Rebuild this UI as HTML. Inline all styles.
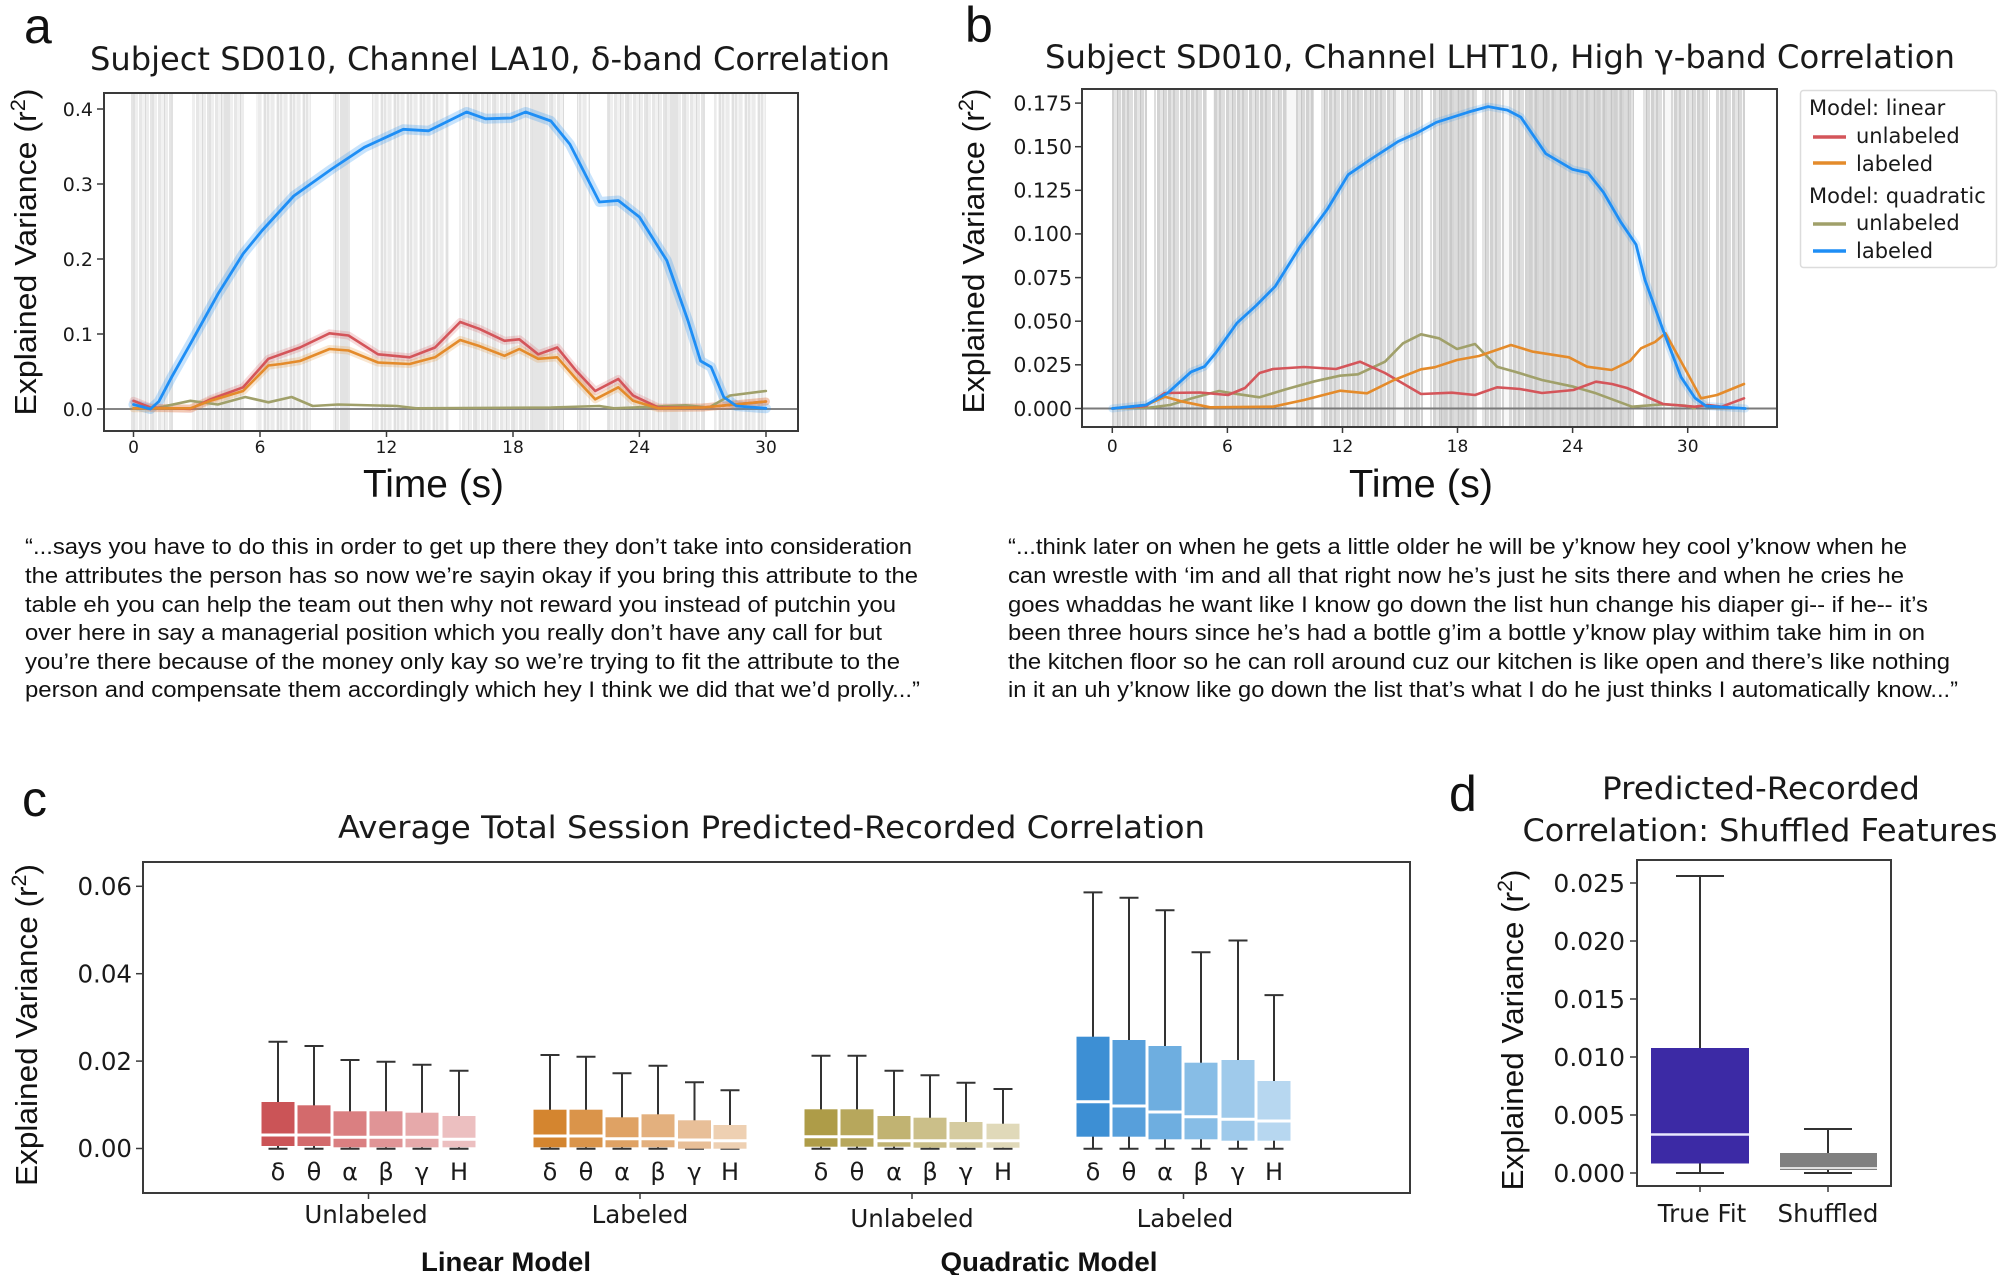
<!DOCTYPE html>
<html>
<head>
<meta charset="utf-8">
<style>
html,body{margin:0;padding:0;background:#fff;}
svg{display:block;}
.dj{font-family:"DejaVu Sans","Liberation Sans",sans-serif;fill:#1a1a1a;}
.ls{font-family:"Liberation Sans","DejaVu Sans",sans-serif;fill:#111;}
</style>
</head>
<body>
<svg width="2000" height="1275" viewBox="0 0 2000 1275" xmlns="http://www.w3.org/2000/svg">
<defs>
<pattern id="pa" patternUnits="userSpaceOnUse" x="0" y="0" width="19" height="10">
<rect width="19" height="10" fill="#ffffff"/>
<rect x="0" width="2" height="10" fill="#e1e1e1"/>
<rect x="2" width="3" height="10" fill="#efefef"/>
<rect x="6" width="3" height="10" fill="#e7e7e7"/>
<rect x="9" width="3" height="10" fill="#f2f2f2"/>
<rect x="12" width="1" height="10" fill="#dadada"/>
<rect x="13" width="3" height="10" fill="#ededed"/>
<rect x="17" width="2" height="10" fill="#e5e5e5"/>
</pattern>
<pattern id="pa2" patternUnits="userSpaceOnUse" x="7" y="0" width="13" height="10">
<rect width="13" height="10" fill="#f3f3f3"/>
<rect x="0" width="2" height="10" fill="#e4e4e4"/>
<rect x="4" width="3" height="10" fill="#ebebeb"/>
<rect x="8" width="1" height="10" fill="#ffffff"/>
<rect x="10" width="2" height="10" fill="#e0e0e0"/>
</pattern>
<pattern id="pb" patternUnits="userSpaceOnUse" x="0" y="0" width="23" height="10">
<rect width="23" height="10" fill="#e0e0e0"/>
<rect x="0" width="2" height="10" fill="#cdcdcd"/>
<rect x="2" width="4" height="10" fill="#dedede"/>
<rect x="6" width="1" height="10" fill="#ffffff"/>
<rect x="7" width="3" height="10" fill="#d3d3d3"/>
<rect x="10" width="3" height="10" fill="#e5e5e5"/>
<rect x="13" width="1" height="10" fill="#c6c6c6"/>
<rect x="14" width="3" height="10" fill="#d9d9d9"/>
<rect x="17" width="1" height="10" fill="#f6f6f6"/>
<rect x="18" width="3" height="10" fill="#d1d1d1"/>
<rect x="21" width="2" height="10" fill="#e3e3e3"/>
</pattern>
<pattern id="pb2" patternUnits="userSpaceOnUse" x="5" y="0" width="17" height="10">
<rect width="17" height="10" fill="#d6d6d6"/>
<rect x="0" width="2" height="10" fill="#c9c9c9"/>
<rect x="4" width="3" height="10" fill="#dcdcdc"/>
<rect x="8" width="1" height="10" fill="#c4c4c4"/>
<rect x="11" width="3" height="10" fill="#d0d0d0"/>
<rect x="15" width="1" height="10" fill="#e6e6e6"/>
</pattern>
</defs>
<rect width="2000" height="1275" fill="#fff"/>

<!-- ================= PANEL A ================= -->
<text class="ls" x="24" y="43" font-size="50">a</text>
<text class="dj" x="90" y="70" font-size="32" textLength="800" lengthAdjust="spacingAndGlyphs">Subject SD010, Channel LA10, δ-band Correlation</text>

<!-- bands a -->
<g>
<rect x="131" y="94" width="42" height="336" fill="url(#pa)"/>
<rect x="192" y="94" width="53" height="336" fill="url(#pa)"/>
<rect x="256" y="94" width="55" height="336" fill="url(#pa2)"/>
<rect x="333" y="94" width="17" height="336" fill="url(#pa)"/>
<rect x="372" y="94" width="77" height="336" fill="url(#pa2)"/>
<rect x="459" y="94" width="105" height="336" fill="url(#pa)"/>
<rect x="577" y="94" width="13" height="336" fill="url(#pa2)"/>
<rect x="607" y="94" width="98" height="336" fill="url(#pa)"/>
<rect x="714" y="94" width="52" height="336" fill="url(#pa2)"/>
<rect x="224" y="94" width="6" height="336" fill="#e2e2e2"/>
<rect x="340" y="94" width="8" height="336" fill="#e3e3e3"/>
<rect x="533" y="94" width="12" height="336" fill="#e5e5e5"/>
<rect x="670" y="94" width="8" height="336" fill="#e3e3e3"/>
</g>
<line x1="104" y1="409" x2="798" y2="409" stroke="#858585" stroke-width="2"/>

<!-- curves a -->
<g fill="none" stroke-linejoin="round" stroke-linecap="round">
<polyline stroke="#1e8ef5" stroke-opacity="0.25" stroke-width="10" points="133.5,404.5 150.4,409 158.8,401.5 171.4,377.5 190.4,343.8 217.8,294.3 243.1,253.8 262.1,230.5 293.7,196 331.7,169 364.3,147.3 403.3,129.3 428.6,130.8 466.6,112 485.5,118.8 510.8,118 525.6,112 550.9,121 569.9,144.3 599.4,202 618.3,200.5 639.4,217 666.8,260.5 687.9,320.5 700.6,361 711.1,367 723.7,397 736.4,406 765.9,408.3"/>
<polyline stroke="#d4555a" stroke-opacity="0.22" stroke-width="8" points="133.5,400.8 150.4,407.5 190.4,409 210.4,399.3 243.1,387.3 268.4,358.8 300,347.5 329.5,333.3 348.5,335.5 378,354.3 409.6,357.3 435,347.5 460.2,322 479.2,328.8 504.5,340.8 519.3,339.3 538.2,354.3 557.2,347.5 576.2,370.8 595.2,391 618.3,379 633.1,395.5 658.4,407.5 702.7,407.5 765.9,401.5"/>
<polyline stroke="#e48b2b" stroke-opacity="0.22" stroke-width="8" points="133.5,408.3 190.4,408.3 210.4,400.8 243.1,391 268.4,365.5 281,364 300,361 329.5,349 348.5,350.5 378,362.5 409.6,364 435,357.3 460.2,340 479.2,346 504.5,355.8 519.3,349 538.2,358.8 557.2,357.3 576.2,379 595.2,399.3 618.3,387.3 633.1,400.8 658.4,408.3 702.7,407.5 765.9,401.5"/>
<polyline stroke="#a0a06a" stroke-width="2.6" points="133.5,408.3 158.8,407.5 190.4,400.8 217.8,404.5 245.2,397 268.4,402.3 291.6,397 312.7,406 338,404.5 397,406 416,408.3 550.9,407.5 599.4,406 614,408.3 685.8,405.3 709,407.5 730.1,395.5 765.9,391"/>
<polyline stroke="#d4555a" stroke-width="2.6" points="133.5,400.8 150.4,407.5 190.4,409 210.4,399.3 243.1,387.3 268.4,358.8 300,347.5 329.5,333.3 348.5,335.5 378,354.3 409.6,357.3 435,347.5 460.2,322 479.2,328.8 504.5,340.8 519.3,339.3 538.2,354.3 557.2,347.5 576.2,370.8 595.2,391 618.3,379 633.1,395.5 658.4,407.5 702.7,407.5 765.9,401.5"/>
<polyline stroke="#e48b2b" stroke-width="2.6" points="133.5,408.3 190.4,408.3 210.4,400.8 243.1,391 268.4,365.5 281,364 300,361 329.5,349 348.5,350.5 378,362.5 409.6,364 435,357.3 460.2,340 479.2,346 504.5,355.8 519.3,349 538.2,358.8 557.2,357.3 576.2,379 595.2,399.3 618.3,387.3 633.1,400.8 658.4,408.3 702.7,407.5 765.9,401.5"/>
<polyline stroke="#1e8ef5" stroke-width="2.8" points="133.5,404.5 150.4,409 158.8,401.5 171.4,377.5 190.4,343.8 217.8,294.3 243.1,253.8 262.1,230.5 293.7,196 331.7,169 364.3,147.3 403.3,129.3 428.6,130.8 466.6,112 485.5,118.8 510.8,118 525.6,112 550.9,121 569.9,144.3 599.4,202 618.3,200.5 639.4,217 666.8,260.5 687.9,320.5 700.6,361 711.1,367 723.7,397 736.4,406 765.9,408.3"/>
</g>

<rect x="104" y="93" width="694" height="338" fill="none" stroke="#3a3a3a" stroke-width="2"/>
<g stroke="#3a3a3a" stroke-width="1.5">
<line x1="97" y1="109" x2="104" y2="109"/><line x1="97" y1="184" x2="104" y2="184"/><line x1="97" y1="259" x2="104" y2="259"/><line x1="97" y1="334" x2="104" y2="334"/><line x1="97" y1="409" x2="104" y2="409"/>
<line x1="133.5" y1="431" x2="133.5" y2="437"/><line x1="260" y1="431" x2="260" y2="437"/><line x1="386.5" y1="431" x2="386.5" y2="437"/><line x1="513" y1="431" x2="513" y2="437"/><line x1="639.4" y1="431" x2="639.4" y2="437"/><line x1="766" y1="431" x2="766" y2="437"/>
</g>
<g class="dj" font-size="19" text-anchor="end">
<text x="93" y="116">0.4</text><text x="93" y="191">0.3</text><text x="93" y="266">0.2</text><text x="93" y="341">0.1</text><text x="93" y="416">0.0</text>
</g>
<g class="dj" font-size="17" text-anchor="middle">
<text x="133.5" y="453">0</text><text x="260" y="453">6</text><text x="386.5" y="453">12</text><text x="513" y="453">18</text><text x="639.4" y="453">24</text><text x="766" y="453">30</text>
</g>
<text class="ls" x="363" y="497" font-size="39" textLength="141" lengthAdjust="spacingAndGlyphs">Time (s)</text>
<text class="ls" transform="translate(36,252) rotate(-90)" text-anchor="middle" font-size="31" textLength="327" lengthAdjust="spacingAndGlyphs">Explained Variance (r<tspan dy="-11" font-size="21">2</tspan><tspan dy="11">)</tspan></text>

<!-- ================= PANEL B ================= -->
<text class="ls" x="965" y="42" font-size="50">b</text>
<text class="dj" x="1045" y="68" font-size="32" textLength="910" lengthAdjust="spacingAndGlyphs">Subject SD010, Channel LHT10, High γ-band Correlation</text>

<g>
<rect x="1112" y="90" width="633" height="336" fill="url(#pb)"/>
<rect x="1527" y="90" width="103" height="336" fill="url(#pb2)"/>
<rect x="1440" y="90" width="30" height="336" fill="url(#pb2)"/>
<rect x="1147" y="90" width="7" height="336" fill="#ffffff"/>
<rect x="1207" y="90" width="6" height="336" fill="#ffffff"/>
<rect x="1287" y="90" width="9" height="336" fill="#f7f7f7"/>
<rect x="1314" y="90" width="7" height="336" fill="#ffffff"/>
<rect x="1396" y="90" width="8" height="336" fill="#f8f8f8"/>
<rect x="1423" y="90" width="7" height="336" fill="#ffffff"/>
<rect x="1477" y="90" width="5" height="336" fill="#ffffff"/>
<rect x="1504" y="90" width="5" height="336" fill="#f8f8f8"/>
<rect x="1634" y="90" width="9" height="336" fill="#ffffff"/>
<rect x="1665" y="90" width="6" height="336" fill="#f8f8f8"/>
<rect x="1710" y="90" width="6" height="336" fill="#ffffff"/>
</g>
<line x1="1082" y1="408.5" x2="1777" y2="408.5" stroke="#7a7a7a" stroke-width="2"/>

<g fill="none" stroke-linejoin="round" stroke-linecap="round">
<polyline stroke="#1e8ef5" stroke-opacity="0.18" stroke-width="8" points="1112.3,408.5 1145.9,405 1167.9,392.8 1191,371.9 1204.4,366.6 1215.9,352.7 1237,323 1256.2,305.5 1275.3,286.3 1300.3,246.2 1327.1,209.6 1348.2,174.7 1371.2,159 1398.1,141.5 1417.3,132.8 1436.4,122.3 1469,111.9 1488.2,106.6 1507.4,110.1 1520.8,117.1 1545.8,153.7 1572.6,169.4 1588,172.9 1603.3,192.1 1620.6,221.8 1636,244.5 1645,280 1663,330 1681,377 1695,398 1706,406 1745.2,408.5"/>
<polyline stroke="#a0a06a" stroke-width="2.6" points="1112.3,408.5 1150,407.5 1170,405 1192,398.3 1219,391 1232.5,393.3 1259.5,397.3 1286,389.3 1313,381.7 1340,375.7 1358,374.3 1385,361.7 1403,343.3 1421,334.3 1439,338.3 1457,349 1475,344 1497,366.7 1515,371.7 1542,380 1573.5,386.7 1596,393.3 1632,406.7 1663,404.3 1685.7,405.7 1694.6,408.3"/>
<polyline stroke="#d4555a" stroke-width="2.6" points="1112.3,408.5 1145.9,406 1165,393 1200,392.5 1228,395 1245,388 1259.5,373 1273,369 1304,367 1336,369 1360,361.7 1385,373 1421,394 1452,392.7 1475,395 1497,387.3 1520,389 1542,393 1573.5,390 1596,381.7 1612,384 1627,388 1645,396 1663,404 1694.6,406.7 1708,405 1721.6,406.7 1744,398.3"/>
<polyline stroke="#e48b2b" stroke-width="2.6" points="1112.3,408.5 1145.9,405 1165,396.7 1183,401.7 1210,407.3 1273,406.7 1304,400 1340,390.7 1367,393.3 1394,380 1421,369.3 1434.5,367.3 1457,360 1479,356 1511,345 1533,351.7 1569,357.3 1587,366.7 1611.6,370 1630,361 1641,348.3 1655,342 1665.5,333.3 1685.7,370 1701,398.3 1717,395 1744,384"/>
<polyline stroke="#1e8ef5" stroke-width="2.8" points="1112.3,408.5 1145.9,405 1167.9,392.8 1191,371.9 1204.4,366.6 1215.9,352.7 1237,323 1256.2,305.5 1275.3,286.3 1300.3,246.2 1327.1,209.6 1348.2,174.7 1371.2,159 1398.1,141.5 1417.3,132.8 1436.4,122.3 1469,111.9 1488.2,106.6 1507.4,110.1 1520.8,117.1 1545.8,153.7 1572.6,169.4 1588,172.9 1603.3,192.1 1620.6,221.8 1636,244.5 1645,280 1663,330 1681,377 1695,398 1706,406 1745.2,408.5"/>
</g>

<rect x="1082" y="89" width="695" height="338" fill="none" stroke="#3a3a3a" stroke-width="2"/>
<g stroke="#3a3a3a" stroke-width="1.5">
<line x1="1075" y1="103.1" x2="1082" y2="103.1"/><line x1="1075" y1="146.7" x2="1082" y2="146.7"/><line x1="1075" y1="190.3" x2="1082" y2="190.3"/><line x1="1075" y1="233.9" x2="1082" y2="233.9"/><line x1="1075" y1="277.6" x2="1082" y2="277.6"/><line x1="1075" y1="321.2" x2="1082" y2="321.2"/><line x1="1075" y1="364.8" x2="1082" y2="364.8"/><line x1="1075" y1="408.5" x2="1082" y2="408.5"/>
<line x1="1112.3" y1="427" x2="1112.3" y2="433"/><line x1="1227.4" y1="427" x2="1227.4" y2="433"/><line x1="1342.5" y1="427" x2="1342.5" y2="433"/><line x1="1457.5" y1="427" x2="1457.5" y2="433"/><line x1="1572.6" y1="427" x2="1572.6" y2="433"/><line x1="1687.7" y1="427" x2="1687.7" y2="433"/>
</g>
<g class="dj" font-size="20.5" text-anchor="end">
<text x="1072" y="110.5">0.175</text><text x="1072" y="154">0.150</text><text x="1072" y="197.5">0.125</text><text x="1072" y="241">0.100</text><text x="1072" y="285">0.075</text><text x="1072" y="328.5">0.050</text><text x="1072" y="372">0.025</text><text x="1072" y="416">0.000</text>
</g>
<g class="dj" font-size="17" text-anchor="middle">
<text x="1112.3" y="452">0</text><text x="1227.4" y="452">6</text><text x="1342.5" y="452">12</text><text x="1457.5" y="452">18</text><text x="1572.6" y="452">24</text><text x="1687.7" y="452">30</text>
</g>
<text class="ls" x="1349" y="497" font-size="39" textLength="144" lengthAdjust="spacingAndGlyphs">Time (s)</text>
<text class="ls" transform="translate(984,251) rotate(-90)" text-anchor="middle" font-size="31" textLength="325" lengthAdjust="spacingAndGlyphs">Explained Variance (r<tspan dy="-11" font-size="21">2</tspan><tspan dy="11">)</tspan></text>

<!-- legend -->
<rect x="1800.5" y="90.5" width="196" height="177" rx="3" fill="#fff" stroke="#dcdcdc" stroke-width="1.5"/>
<g class="dj" font-size="21">
<text x="1809" y="115">Model: linear</text>
<text x="1856" y="143">unlabeled</text>
<text x="1856" y="171">labeled</text>
<text x="1809" y="203">Model: quadratic</text>
<text x="1856" y="230">unlabeled</text>
<text x="1856" y="258">labeled</text>
</g>
<g stroke-width="3.5">
<line x1="1813" y1="137" x2="1846" y2="137" stroke="#d4555a"/>
<line x1="1813" y1="163" x2="1846" y2="163" stroke="#e48b2b"/>
<line x1="1813" y1="224" x2="1846" y2="224" stroke="#a0a06a"/>
<line x1="1813" y1="251" x2="1846" y2="251" stroke="#1e8ef5"/>
</g>

<!-- ================= QUOTES ================= -->
<g class="ls" font-size="22" fill="#111">
<text x="25" y="554" textLength="887" lengthAdjust="spacingAndGlyphs">“...says you have to do this in order to get up there they don’t take into consideration</text>
<text x="25" y="583" textLength="893" lengthAdjust="spacingAndGlyphs">the attributes the person has so now we’re sayin okay if you bring this attribute to the</text>
<text x="25" y="612" textLength="871" lengthAdjust="spacingAndGlyphs">table eh you can help the team out then why not reward you instead of putchin you</text>
<text x="25" y="640" textLength="857" lengthAdjust="spacingAndGlyphs">over here in say a managerial position which you really don’t have any call for but</text>
<text x="25" y="669" textLength="875" lengthAdjust="spacingAndGlyphs">you’re there because of the money only kay so we’re trying to fit the attribute to the</text>
<text x="25" y="697" textLength="895" lengthAdjust="spacingAndGlyphs">person and compensate them accordingly which hey I think we did that we’d prolly...”</text>

<text x="1008" y="554" textLength="899" lengthAdjust="spacingAndGlyphs">“...think later on when he gets a little older he will be y’know hey cool y’know when he</text>
<text x="1008" y="583" textLength="896" lengthAdjust="spacingAndGlyphs">can wrestle with ‘im and all that right now he’s just he sits there and when he cries he</text>
<text x="1008" y="612" textLength="920" lengthAdjust="spacingAndGlyphs">goes whaddas he want like I know go down the list hun change his diaper gi-- if he-- it’s</text>
<text x="1008" y="640" textLength="917" lengthAdjust="spacingAndGlyphs">been three hours since he’s had a bottle g’im a bottle y’know play withim take him in on</text>
<text x="1008" y="669" textLength="942" lengthAdjust="spacingAndGlyphs">the kitchen floor so he can roll around cuz our kitchen is like open and there’s like nothing</text>
<text x="1008" y="697" textLength="950" lengthAdjust="spacingAndGlyphs">in it an uh y’know like go down the list that’s what I do he just thinks I automatically know...”</text>
</g>

<!-- ================= PANEL C ================= -->
<text class="ls" x="22" y="816" font-size="50">c</text>
<text class="dj" x="338" y="838" font-size="31" textLength="867" lengthAdjust="spacingAndGlyphs">Average Total Session Predicted-Recorded Correlation</text>

<g stroke="#333" stroke-width="2">
<line x1="278" y1="1041.7" x2="278" y2="1148.7"/><line x1="268.5" y1="1041.7" x2="287.5" y2="1041.7"/><line x1="268.5" y1="1148.7" x2="287.5" y2="1148.7"/>
<line x1="314" y1="1046" x2="314" y2="1148.7"/><line x1="304.5" y1="1046" x2="323.5" y2="1046"/><line x1="304.5" y1="1148.7" x2="323.5" y2="1148.7"/>
<line x1="350" y1="1060" x2="350" y2="1148.7"/><line x1="340.5" y1="1060" x2="359.5" y2="1060"/><line x1="340.5" y1="1148.7" x2="359.5" y2="1148.7"/>
<line x1="386" y1="1061.7" x2="386" y2="1148.7"/><line x1="376.5" y1="1061.7" x2="395.5" y2="1061.7"/><line x1="376.5" y1="1148.7" x2="395.5" y2="1148.7"/>
<line x1="422" y1="1064.7" x2="422" y2="1148.7"/><line x1="412.5" y1="1064.7" x2="431.5" y2="1064.7"/><line x1="412.5" y1="1148.7" x2="431.5" y2="1148.7"/>
<line x1="459" y1="1070.7" x2="459" y2="1148.7"/><line x1="449.5" y1="1070.7" x2="468.5" y2="1070.7"/><line x1="449.5" y1="1148.7" x2="468.5" y2="1148.7"/>
<line x1="550" y1="1055" x2="550" y2="1148.7"/><line x1="540.5" y1="1055" x2="559.5" y2="1055"/><line x1="540.5" y1="1148.7" x2="559.5" y2="1148.7"/>
<line x1="586" y1="1056.7" x2="586" y2="1148.7"/><line x1="576.5" y1="1056.7" x2="595.5" y2="1056.7"/><line x1="576.5" y1="1148.7" x2="595.5" y2="1148.7"/>
<line x1="622" y1="1073.3" x2="622" y2="1148.7"/><line x1="612.5" y1="1073.3" x2="631.5" y2="1073.3"/><line x1="612.5" y1="1148.7" x2="631.5" y2="1148.7"/>
<line x1="658" y1="1065.7" x2="658" y2="1148.7"/><line x1="648.5" y1="1065.7" x2="667.5" y2="1065.7"/><line x1="648.5" y1="1148.7" x2="667.5" y2="1148.7"/>
<line x1="694.5" y1="1082.3" x2="694.5" y2="1148.7"/><line x1="685" y1="1082.3" x2="704" y2="1082.3"/><line x1="685" y1="1148.7" x2="704" y2="1148.7"/>
<line x1="730" y1="1090.3" x2="730" y2="1148.7"/><line x1="720.5" y1="1090.3" x2="739.5" y2="1090.3"/><line x1="720.5" y1="1148.7" x2="739.5" y2="1148.7"/>
<line x1="821" y1="1055.7" x2="821" y2="1148.7"/><line x1="811.5" y1="1055.7" x2="830.5" y2="1055.7"/><line x1="811.5" y1="1148.7" x2="830.5" y2="1148.7"/>
<line x1="857" y1="1055.7" x2="857" y2="1148.7"/><line x1="847.5" y1="1055.7" x2="866.5" y2="1055.7"/><line x1="847.5" y1="1148.7" x2="866.5" y2="1148.7"/>
<line x1="894" y1="1070.7" x2="894" y2="1148.7"/><line x1="884.5" y1="1070.7" x2="903.5" y2="1070.7"/><line x1="884.5" y1="1148.7" x2="903.5" y2="1148.7"/>
<line x1="930" y1="1075.3" x2="930" y2="1148.7"/><line x1="920.5" y1="1075.3" x2="939.5" y2="1075.3"/><line x1="920.5" y1="1148.7" x2="939.5" y2="1148.7"/>
<line x1="966" y1="1082.7" x2="966" y2="1148.7"/><line x1="956.5" y1="1082.7" x2="975.5" y2="1082.7"/><line x1="956.5" y1="1148.7" x2="975.5" y2="1148.7"/>
<line x1="1003" y1="1089" x2="1003" y2="1148.7"/><line x1="993.5" y1="1089" x2="1012.5" y2="1089"/><line x1="993.5" y1="1148.7" x2="1012.5" y2="1148.7"/>
<line x1="1093" y1="892.4" x2="1093" y2="1148.7"/><line x1="1083.5" y1="892.4" x2="1102.5" y2="892.4"/><line x1="1083.5" y1="1148.7" x2="1102.5" y2="1148.7"/>
<line x1="1129" y1="897.7" x2="1129" y2="1148.7"/><line x1="1119.5" y1="897.7" x2="1138.5" y2="897.7"/><line x1="1119.5" y1="1148.7" x2="1138.5" y2="1148.7"/>
<line x1="1165" y1="910.3" x2="1165" y2="1148.7"/><line x1="1155.5" y1="910.3" x2="1174.5" y2="910.3"/><line x1="1155.5" y1="1148.7" x2="1174.5" y2="1148.7"/>
<line x1="1201" y1="952.3" x2="1201" y2="1148.7"/><line x1="1191.5" y1="952.3" x2="1210.5" y2="952.3"/><line x1="1191.5" y1="1148.7" x2="1210.5" y2="1148.7"/>
<line x1="1238" y1="940.5" x2="1238" y2="1148.7"/><line x1="1228.5" y1="940.5" x2="1247.5" y2="940.5"/><line x1="1228.5" y1="1148.7" x2="1247.5" y2="1148.7"/>
<line x1="1274" y1="995.1" x2="1274" y2="1148.7"/><line x1="1264.5" y1="995.1" x2="1283.5" y2="995.1"/><line x1="1264.5" y1="1148.7" x2="1283.5" y2="1148.7"/>
</g>

<g>
<rect x="261.5" y="1102" width="33" height="44" fill="#cb5457"/>
<rect x="297.5" y="1105.3" width="33" height="40.7" fill="#d36a6c"/>
<rect x="333.5" y="1111.3" width="33" height="36" fill="#da7f81"/>
<rect x="369.5" y="1111.3" width="33" height="36" fill="#e09496"/>
<rect x="405.5" y="1112.7" width="33" height="34.6" fill="#e6a9aa"/>
<rect x="442.5" y="1116" width="33" height="31.3" fill="#ecbfc0"/>
<rect x="533.5" y="1109.7" width="33" height="37.6" fill="#d4852f"/>
<rect x="569.5" y="1109.7" width="33" height="37.6" fill="#da944a"/>
<rect x="605.5" y="1117.3" width="33" height="30" fill="#dfa264"/>
<rect x="641.5" y="1114.3" width="33" height="33" fill="#e3b07e"/>
<rect x="678" y="1120.3" width="33" height="28.4" fill="#e8bf98"/>
<rect x="713.5" y="1125" width="33" height="23.7" fill="#eed0b2"/>
<rect x="804.5" y="1109.3" width="33" height="37.4" fill="#ae9c48"/>
<rect x="840.5" y="1109.3" width="33" height="37.4" fill="#b7a75c"/>
<rect x="877.5" y="1116" width="33" height="30.7" fill="#c1b372"/>
<rect x="913.5" y="1117.7" width="33" height="30" fill="#cbbf89"/>
<rect x="949.5" y="1122" width="33" height="25.7" fill="#d5cba0"/>
<rect x="986.5" y="1123.7" width="33" height="24" fill="#e0d9b9"/>
<rect x="1076.5" y="1036.7" width="33" height="100" fill="#3d8fd4"/>
<rect x="1112.5" y="1040" width="33" height="96.7" fill="#579fdb"/>
<rect x="1148.5" y="1046" width="33" height="93.3" fill="#6eaee0"/>
<rect x="1184.5" y="1062.7" width="33" height="76.6" fill="#87bde6"/>
<rect x="1221.5" y="1060" width="33" height="80.7" fill="#9fcaeb"/>
<rect x="1257.5" y="1081" width="33" height="59.7" fill="#b7d7f0"/>
</g>
<g stroke="#fff" stroke-width="3">
<line x1="261.5" y1="1135" x2="294.5" y2="1135"/><line x1="297.5" y1="1135" x2="330.5" y2="1135"/><line x1="333.5" y1="1137.3" x2="366.5" y2="1137.3"/><line x1="369.5" y1="1137.3" x2="402.5" y2="1137.3"/><line x1="405.5" y1="1137.3" x2="438.5" y2="1137.3"/><line x1="442.5" y1="1139.3" x2="475.5" y2="1139.3"/>
<line x1="533.5" y1="1136" x2="566.5" y2="1136"/><line x1="569.5" y1="1136" x2="602.5" y2="1136"/><line x1="605.5" y1="1138.7" x2="638.5" y2="1138.7"/><line x1="641.5" y1="1138.7" x2="674.5" y2="1138.7"/><line x1="678" y1="1140" x2="711" y2="1140"/><line x1="713.5" y1="1140.7" x2="746.5" y2="1140.7"/>
<line x1="804.5" y1="1136.7" x2="837.5" y2="1136.7"/><line x1="840.5" y1="1136.7" x2="873.5" y2="1136.7"/><line x1="877.5" y1="1140.7" x2="910.5" y2="1140.7"/><line x1="913.5" y1="1140.7" x2="946.5" y2="1140.7"/><line x1="949.5" y1="1140.7" x2="982.5" y2="1140.7"/><line x1="986.5" y1="1140.7" x2="1019.5" y2="1140.7"/>
<line x1="1076.5" y1="1101.7" x2="1109.5" y2="1101.7"/><line x1="1112.5" y1="1106" x2="1145.5" y2="1106"/><line x1="1148.5" y1="1112" x2="1181.5" y2="1112"/><line x1="1184.5" y1="1116.7" x2="1217.5" y2="1116.7"/><line x1="1221.5" y1="1119.3" x2="1254.5" y2="1119.3"/><line x1="1257.5" y1="1121" x2="1290.5" y2="1121"/>
</g>

<g class="dj" font-size="24" text-anchor="middle">
<text x="278" y="1180">δ</text><text x="314" y="1180">θ</text><text x="350" y="1180">α</text><text x="386" y="1180">β</text><text x="422" y="1180">γ</text><text x="459" y="1180">H</text>
<text x="550" y="1180">δ</text><text x="586" y="1180">θ</text><text x="622" y="1180">α</text><text x="658" y="1180">β</text><text x="694.5" y="1180">γ</text><text x="730" y="1180">H</text>
<text x="821" y="1180">δ</text><text x="857" y="1180">θ</text><text x="894" y="1180">α</text><text x="930" y="1180">β</text><text x="966" y="1180">γ</text><text x="1003" y="1180">H</text>
<text x="1093" y="1180">δ</text><text x="1129" y="1180">θ</text><text x="1165" y="1180">α</text><text x="1201" y="1180">β</text><text x="1238" y="1180">γ</text><text x="1274" y="1180">H</text>
</g>

<rect x="143" y="862" width="1267" height="331" fill="none" stroke="#3a3a3a" stroke-width="2"/>
<g stroke="#3a3a3a" stroke-width="1.5">
<line x1="136" y1="886.3" x2="143" y2="886.3"/><line x1="136" y1="973.7" x2="143" y2="973.7"/><line x1="136" y1="1061.1" x2="143" y2="1061.1"/><line x1="136" y1="1148.5" x2="143" y2="1148.5"/>
<line x1="368.5" y1="1193" x2="368.5" y2="1199"/><line x1="640" y1="1193" x2="640" y2="1199"/><line x1="912" y1="1193" x2="912" y2="1199"/><line x1="1183.5" y1="1193" x2="1183.5" y2="1199"/>
</g>
<g class="dj" font-size="24.5" text-anchor="end">
<text x="132" y="895">0.06</text><text x="132" y="982.5">0.04</text><text x="132" y="1070">0.02</text><text x="132" y="1157">0.00</text>
</g>
<g class="dj" font-size="24.5" text-anchor="middle">
<text x="366" y="1223">Unlabeled</text><text x="640" y="1223">Labeled</text><text x="912" y="1227">Unlabeled</text><text x="1185" y="1227">Labeled</text>
</g>
<g class="ls" font-size="27" font-weight="bold" text-anchor="middle">
<text x="506" y="1271" textLength="170" lengthAdjust="spacingAndGlyphs">Linear Model</text>
<text x="1049" y="1271" textLength="217" lengthAdjust="spacingAndGlyphs">Quadratic Model</text>
</g>
<text class="ls" transform="translate(37,1025) rotate(-90)" text-anchor="middle" font-size="31" textLength="322" lengthAdjust="spacingAndGlyphs">Explained Variance (r<tspan dy="-11" font-size="21">2</tspan><tspan dy="11">)</tspan></text>

<!-- ================= PANEL D ================= -->
<text class="ls" x="1449" y="811" font-size="50">d</text>
<text class="dj" x="1761" y="799" font-size="31" text-anchor="middle" textLength="318" lengthAdjust="spacingAndGlyphs">Predicted-Recorded</text>
<text class="dj" x="1760" y="841" font-size="31" text-anchor="middle" textLength="475" lengthAdjust="spacingAndGlyphs">Correlation: Shuffled Features</text>

<g stroke="#333" stroke-width="2">
<line x1="1700" y1="876" x2="1700" y2="1173"/><line x1="1676" y1="876" x2="1724" y2="876"/><line x1="1676" y1="1173" x2="1724" y2="1173"/>
<line x1="1828" y1="1129" x2="1828" y2="1173"/><line x1="1804" y1="1129" x2="1852" y2="1129"/><line x1="1804" y1="1173" x2="1852" y2="1173"/>
</g>
<rect x="1651" y="1048" width="98" height="115.5" fill="#3c2aa5"/>
<line x1="1651" y1="1134.5" x2="1749" y2="1134.5" stroke="#e8e8ff" stroke-width="2.5"/>
<rect x="1780" y="1153" width="97" height="17" fill="#808080"/>
<line x1="1780" y1="1168" x2="1877" y2="1168" stroke="#e0e0e0" stroke-width="2"/>

<rect x="1637" y="860" width="254" height="326" fill="none" stroke="#3a3a3a" stroke-width="2"/>
<g stroke="#3a3a3a" stroke-width="1.5">
<line x1="1630" y1="883" x2="1637" y2="883"/><line x1="1630" y1="941" x2="1637" y2="941"/><line x1="1630" y1="999" x2="1637" y2="999"/><line x1="1630" y1="1057" x2="1637" y2="1057"/><line x1="1630" y1="1115" x2="1637" y2="1115"/><line x1="1630" y1="1173" x2="1637" y2="1173"/>
<line x1="1700" y1="1186" x2="1700" y2="1192"/><line x1="1828" y1="1186" x2="1828" y2="1192"/>
</g>
<g class="dj" font-size="25" text-anchor="end">
<text x="1625" y="892">0.025</text><text x="1625" y="950">0.020</text><text x="1625" y="1008">0.015</text><text x="1625" y="1066">0.010</text><text x="1625" y="1124">0.005</text><text x="1625" y="1182">0.000</text>
</g>
<g class="dj" font-size="24.5" text-anchor="middle">
<text x="1702" y="1222">True Fit</text><text x="1828" y="1222">Shuffled</text>
</g>
<text class="ls" transform="translate(1523,1030) rotate(-90)" text-anchor="middle" font-size="31" textLength="321" lengthAdjust="spacingAndGlyphs">Explained Variance (r<tspan dy="-11" font-size="21">2</tspan><tspan dy="11">)</tspan></text>

</svg>
</body>
</html>
